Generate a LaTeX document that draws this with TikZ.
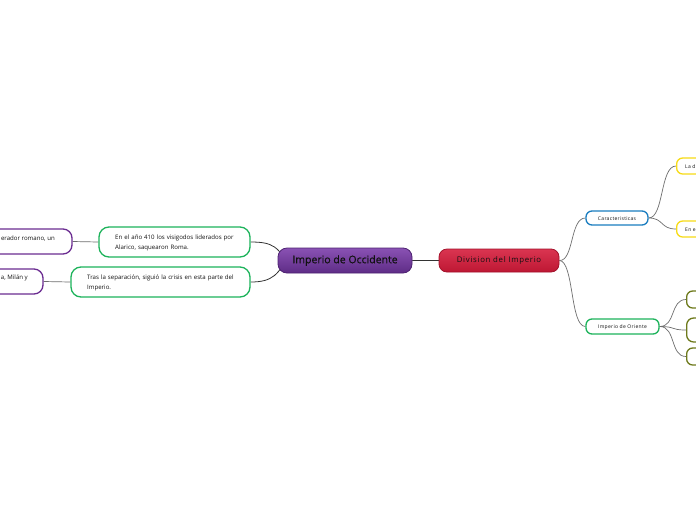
\documentclass[tikz,border=0pt]{standalone}
\usepackage{fontspec}
\setmainfont{Open Sans}
\usetikzlibrary{backgrounds}
\definecolor{occtop}{HTML}{8A52B4}
\definecolor{occbot}{HTML}{5E2C86}
\definecolor{occborder}{HTML}{4E2272}
\definecolor{divtop}{HTML}{DA3551}
\definecolor{divbot}{HTML}{BE1733}
\definecolor{divborder}{HTML}{A3122B}
\definecolor{grn}{HTML}{1DB35B}
\definecolor{pur}{HTML}{6B2C91}
\definecolor{blu}{HTML}{1A7DC0}
\definecolor{yel}{HTML}{F7DB16}
\definecolor{oli}{HTML}{6E7A1C}
\definecolor{linegray}{HTML}{6E6E6E}
\definecolor{linedark}{HTML}{333333}
\definecolor{txt}{HTML}{111111}
\tikzset{
  mmbox/.style={draw, rounded corners=8pt, line width=1.3pt, fill=white, inner sep=0pt, text=txt},
  conn/.style={draw=linegray, line width=0.7pt},
  darkconn/.style={draw=linedark, line width=0.8pt},
  smalltxt/.style={font=\fontsize{6.1}{10}\selectfont, text=txt, inner sep=0pt},
  tinytxt/.style={font=\fontsize{5}{6}\selectfont\addfontfeature{LetterSpace=6}, text=txt}
}
\begin{document}
\begin{tikzpicture}[x=1pt,y=-1pt]
\useasboundingbox (0,0) rectangle (696,520);
\begin{scope}[on background layer]
\fill[white] (0,0) rectangle (696,520);
\end{scope}
\clip (0,0) rectangle (696,520);

% central nodes
\node[mmbox, draw=occborder, line width=0.8pt, top color=occtop, bottom color=occbot,
      minimum width=134pt, minimum height=25pt, rounded corners=9pt]
      (occ) at (345,260.5) {\fontsize{10.5}{12}\selectfont\addfontfeature{FakeBold=0.6}Imperio de Occidente};
\node[mmbox, draw=divborder, line width=0.8pt, top color=divtop, bottom color=divbot,
      minimum width=120pt, minimum height=23pt, rounded corners=8pt]
      (div) at (499,260.5) {\fontsize{7.8}{9}\selectfont\addfontfeature{LetterSpace=9}Division del Imperio};

% left branch
\node[mmbox, draw=grn, minimum width=151pt, minimum height=30pt, rounded corners=10pt]
      (g1) at (174.5,242) {};
\node[smalltxt, text width=128pt, align=left, anchor=west] (g1t) at (115,242.5)
      {En el año 410 los visigodos liderados por\\Alarico, saquearon Roma.};
\node[mmbox, draw=grn, minimum width=179pt, minimum height=30pt, rounded corners=10pt]
      (g2) at (160.5,282) {};
\node[smalltxt, text width=160pt, align=left, anchor=west] (g2t) at (87,282.5)
      {Tras la separación, siguió la crisis en esta parte del\\Imperio.};
\node[mmbox, draw=pur, minimum width=150pt, minimum height=25pt, rounded corners=9pt]
      (p1) at (-3,241.5) {};
\node[smalltxt, anchor=base east] (p1t) at (55,240) {erador romano, un};
\node[mmbox, draw=pur, minimum width=150pt, minimum height=25pt, rounded corners=9pt]
      (p2) at (-32,281.5) {};
\node[smalltxt, anchor=base east] (p2t) at (28,279.5) {a, Milán y};

% right branch
\node[mmbox, draw=blu, minimum width=62pt, minimum height=14pt, rounded corners=6pt]
      (car) at (617,218) {};
\node[tinytxt] (cart) at (617,218.3) {Caracteristicas};
\node[mmbox, draw=grn, minimum width=73pt, minimum height=15pt, rounded corners=6pt]
      (ori) at (622.5,326.5) {};
\node[tinytxt] (orit) at (622.5,326.8) {Imperio de Oriente};

\node[mmbox, draw=yel, minimum width=80pt, minimum height=16pt, rounded corners=6pt, anchor=west]
      (y1) at (676,166) {};
\node[tinytxt, anchor=west, inner sep=0pt] (y1t) at (685,166.3) {La d};
\node[mmbox, draw=yel, minimum width=80pt, minimum height=16pt, rounded corners=6pt, anchor=west]
      (y2) at (676,229) {};
\node[tinytxt, anchor=west, inner sep=0pt] (y2t) at (685,229.3) {En e};

\node[mmbox, draw=oli, minimum width=80pt, minimum height=17pt, rounded corners=6pt, anchor=west]
      (o1) at (686,299.5) {};
\node[mmbox, draw=oli, minimum width=80pt, minimum height=24pt, rounded corners=7pt, anchor=west]
      (o2) at (686,330) {};
\node[mmbox, draw=oli, minimum width=80pt, minimum height=17pt, rounded corners=6pt, anchor=west]
      (o3) at (686,356.5) {};

% connectors
\begin{scope}[on background layer]
  \draw[darkconn] (occ.east) -- (div.west);
  \draw[darkconn] (g1.east) .. controls (272,242) and (280,246) .. ([xshift=12pt,yshift=-10pt]occ.west);
  \draw[darkconn] (g2.east) .. controls (272,282) and (280,275) .. ([xshift=12pt,yshift=10pt]occ.west);
  \draw[conn] (g1.west) -- (p1.east);
  \draw[conn] (g2.west) -- (p2.east);
  \draw[conn] (div.east) .. controls (574,261) and (570,218) .. (car.west);
  \draw[conn] (div.east) .. controls (574,261) and (570,326.5) .. (ori.west);
  \draw[conn] (car.east) .. controls (664,218) and (660,166) .. (y1.west);
  \draw[conn] (car.east) .. controls (664,218) and (660,229) .. (y2.west);
  \draw[conn] (ori.east) .. controls (676,326.5) and (670,299.5) .. (o1.west);
  \draw[conn] (ori.east) .. controls (676,326.5) and (670,330) .. (o2.west);
  \draw[conn] (ori.east) .. controls (676,326.5) and (670,356.5) .. (o3.west);
\end{scope}
\end{tikzpicture}
\end{document}
